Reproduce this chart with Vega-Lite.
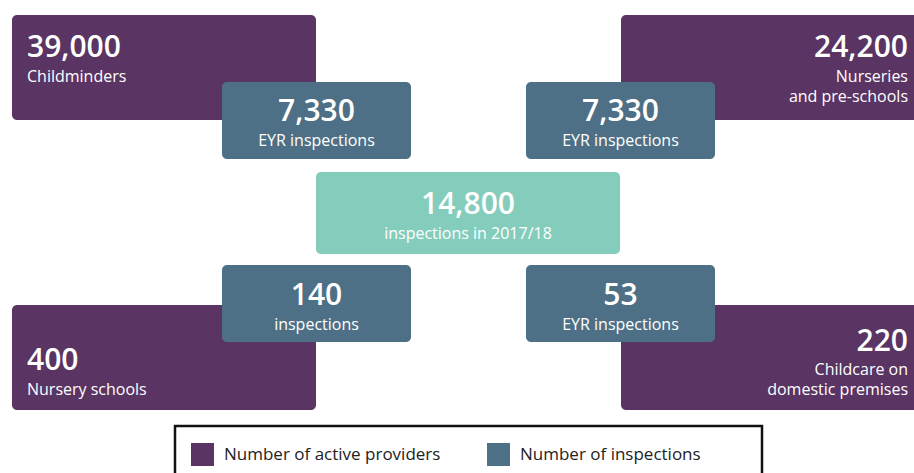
{
  "$schema": "https://vega.github.io/schema/vega-lite/v6.json",
  "width": 914,
  "height": 473,
  "autosize": {"type": "fit", "contains": "padding"},
  "padding": 0,
  "background": "white",
  "config": {
    "view": {"stroke": null},
    "font": "Open Sans",
    "legend": {"labelFont": "Open Sans"}
  },
  "datasets": {
    "boxes": [
      {"name": "Childminders", "measure": "Number of active providers", "x1": 12, "x2": 316, "y1": 15, "y2": 120, "value": "39,000", "label": "Childminders", "anchor": "left", "tx": 27, "ny": 57, "ly": 82, "order": 1},
      {"name": "Nurseries and pre-schools", "measure": "Number of active providers", "x1": 621, "x2": 930, "y1": 15, "y2": 120, "value": "24,200", "label": "Nurseries\nand pre-schools", "anchor": "right", "tx": 908, "ny": 57, "ly": 82, "order": 1},
      {"name": "Nursery schools", "measure": "Number of active providers", "x1": 12, "x2": 316, "y1": 305, "y2": 410, "value": "400", "label": "Nursery schools", "anchor": "left", "tx": 27, "ny": 370, "ly": 395, "order": 1},
      {"name": "Childcare on domestic premises", "measure": "Number of active providers", "x1": 621, "x2": 930, "y1": 305, "y2": 410, "value": "220", "label": "Childcare on\ndomestic premises", "anchor": "right", "tx": 908, "ny": 351, "ly": 375, "order": 1},
      {"name": "Childminders inspections", "measure": "Number of inspections", "x1": 222, "x2": 411, "y1": 82, "y2": 159, "value": "7,330", "label": "EYR inspections", "anchor": "center", "tx": 316.5, "ny": 121, "ly": 146, "order": 2},
      {"name": "Nurseries inspections", "measure": "Number of inspections", "x1": 526, "x2": 715, "y1": 82, "y2": 159, "value": "7,330", "label": "EYR inspections", "anchor": "center", "tx": 620.5, "ny": 121, "ly": 146, "order": 2},
      {"name": "Nursery schools inspections", "measure": "Number of inspections", "x1": 222, "x2": 411, "y1": 265, "y2": 342, "value": "140", "label": "inspections", "anchor": "center", "tx": 316.5, "ny": 305, "ly": 330, "order": 2},
      {"name": "Domestic premises inspections", "measure": "Number of inspections", "x1": 526, "x2": 715, "y1": 265, "y2": 342, "value": "53", "label": "EYR inspections", "anchor": "center", "tx": 620.5, "ny": 305, "ly": 330, "order": 2},
      {"name": "Total", "measure": "Total inspections", "x1": 316, "x2": 620, "y1": 172, "y2": 254, "value": "14,800", "label": "inspections in 2017/18", "anchor": "center", "tx": 468, "ny": 214, "ly": 239, "order": 3}
    ],
    "legendbox": [
      {"x1": 175, "x2": 762, "y1": 426, "y2": 495}
    ]
  },
  "encoding": {
    "x": {"type": "quantitative", "scale": {"domain": [0, 914], "nice": false, "zero": false}, "axis": null},
    "y": {"type": "quantitative", "scale": {"domain": [0, 473], "nice": false, "zero": false, "reverse": true}, "axis": null}
  },
  "layer": [
    {
      "data": {"name": "boxes"},
      "transform": [{"filter": "datum.order == 1"}],
      "mark": {"type": "rect", "cornerRadius": 5, "clip": true},
      "encoding": {
        "x": {"field": "x1", "type": "quantitative"},
        "x2": {"field": "x2"},
        "y": {"field": "y1", "type": "quantitative"},
        "y2": {"field": "y2"},
        "color": {
          "field": "measure",
          "type": "nominal",
          "scale": {"domain": ["Number of active providers", "Number of inspections", "Total inspections"], "range": ["#5a3462", "#4e7086", "#84cdbd"]},
          "legend": {
            "values": ["Number of active providers", "Number of inspections"],
            "title": null,
            "orient": "none",
            "legendX": 191,
            "legendY": 443,
            "direction": "horizontal",
            "columns": 2,
            "padding": 0,
            "symbolType": "square",
            "symbolSize": 529,
            "symbolStrokeWidth": 0,
            "symbolOpacity": 1,
            "labelFontSize": 17,
            "labelColor": "#222222",
            "labelOffset": 10,
            "labelLimit": 400,
            "columnPadding": 46
          }
        }
      }
    },
    {
      "data": {"name": "boxes"},
      "transform": [{"filter": "datum.order >= 2"}],
      "mark": {"type": "rect", "cornerRadius": 5},
      "encoding": {
        "x": {"field": "x1", "type": "quantitative"},
        "x2": {"field": "x2"},
        "y": {"field": "y1", "type": "quantitative"},
        "y2": {"field": "y2"},
        "color": {"field": "measure", "type": "nominal"}
      }
    },
    {
      "data": {"name": "boxes"},
      "transform": [{"filter": "datum.anchor == 'left'"}],
      "mark": {"type": "text", "align": "left", "baseline": "alphabetic", "fontSize": 30, "fontWeight": 600, "color": "white"},
      "encoding": {
        "x": {"field": "tx", "type": "quantitative"},
        "y": {"field": "ny", "type": "quantitative"},
        "text": {"field": "value"}
      }
    },
    {
      "data": {"name": "boxes"},
      "transform": [{"filter": "datum.anchor == 'right'"}],
      "mark": {"type": "text", "align": "right", "baseline": "alphabetic", "fontSize": 30, "fontWeight": 600, "color": "white"},
      "encoding": {
        "x": {"field": "tx", "type": "quantitative"},
        "y": {"field": "ny", "type": "quantitative"},
        "text": {"field": "value"}
      }
    },
    {
      "data": {"name": "boxes"},
      "transform": [{"filter": "datum.anchor == 'center'"}],
      "mark": {"type": "text", "align": "center", "baseline": "alphabetic", "fontSize": 30, "fontWeight": 600, "color": "white"},
      "encoding": {
        "x": {"field": "tx", "type": "quantitative"},
        "y": {"field": "ny", "type": "quantitative"},
        "text": {"field": "value"}
      }
    },
    {
      "data": {"name": "boxes"},
      "transform": [{"filter": "datum.anchor == 'left'"}],
      "mark": {"type": "text", "align": "left", "baseline": "alphabetic", "fontSize": 16, "color": "white", "lineBreak": "\n", "lineHeight": 20},
      "encoding": {
        "x": {"field": "tx", "type": "quantitative"},
        "y": {"field": "ly", "type": "quantitative"},
        "text": {"field": "label"}
      }
    },
    {
      "data": {"name": "boxes"},
      "transform": [{"filter": "datum.anchor == 'right'"}],
      "mark": {"type": "text", "align": "right", "baseline": "alphabetic", "fontSize": 16, "color": "white", "lineBreak": "\n", "lineHeight": 20},
      "encoding": {
        "x": {"field": "tx", "type": "quantitative"},
        "y": {"field": "ly", "type": "quantitative"},
        "text": {"field": "label"}
      }
    },
    {
      "data": {"name": "boxes"},
      "transform": [{"filter": "datum.anchor == 'center'"}],
      "mark": {"type": "text", "align": "center", "baseline": "alphabetic", "fontSize": 16, "color": "white", "lineBreak": "\n", "lineHeight": 20},
      "encoding": {
        "x": {"field": "tx", "type": "quantitative"},
        "y": {"field": "ly", "type": "quantitative"},
        "text": {"field": "label"}
      }
    },
    {
      "data": {"name": "legendbox"},
      "mark": {"type": "rect", "fill": null, "stroke": "#111111", "strokeWidth": 2.5, "clip": true},
      "encoding": {
        "x": {"field": "x1", "type": "quantitative"},
        "x2": {"field": "x2"},
        "y": {"field": "y1", "type": "quantitative"},
        "y2": {"field": "y2"}
      }
    }
  ]
}
